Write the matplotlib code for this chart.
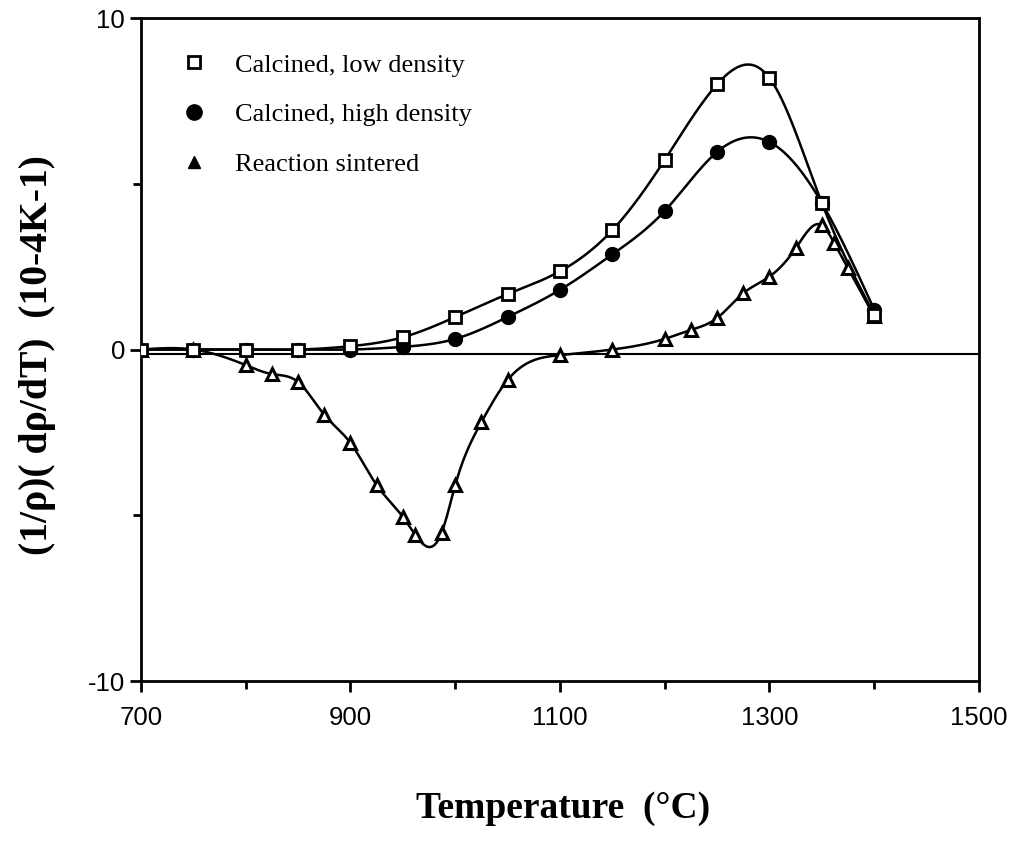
import numpy as np
import matplotlib
matplotlib.use("Agg")
import matplotlib.pyplot as plt
from matplotlib.lines import Line2D

# ======================
# data
# ======================
temp = [700, 750, 800, 850, 900, 950, 1000, 1050, 1100, 1150, 1200, 1250, 1300, 1350, 1400]
low_density = [0, 0, 0, 0, 0.1, 0.37, 0.98, 1.67, 2.36, 3.6, 5.72, 8.0, 8.19, 4.42, 1.05]
high_density = [0, 0, 0, 0, 0, 0.08, 0.32, 0.98, 1.8, 2.87, 4.18, 5.96, 6.26, 4.42, 1.2]

temp_rs = [700, 750, 800, 825, 850, 875, 900, 925, 950, 962, 987, 1000, 1025, 1050,
           1100, 1150, 1200, 1225, 1250, 1275, 1300, 1325, 1350, 1362, 1375, 1400]
reaction = [0, 0, -0.47, -0.74, -0.98, -1.97, -2.82, -4.09, -5.05, -5.6, -5.53, -4.09, -2.19, -0.92,
            -0.17, 0.0, 0.32, 0.59, 0.95, 1.7, 2.2, 3.05, 3.75, 3.2, 2.45, 1.0]

labels = ["Calcined, low density", "Calcined, high density", "Reaction sintered"]


# natural cubic spline for the smooth curves
def smooth(x, y, n=500):
    x = np.asarray(x, float)
    y = np.asarray(y, float)
    N = len(x)
    h = np.diff(x)
    A = np.zeros((N, N))
    r = np.zeros(N)
    A[0, 0] = A[-1, -1] = 1
    for i in range(1, N - 1):
        A[i, i - 1] = h[i - 1]
        A[i, i] = 2 * (h[i - 1] + h[i])
        A[i, i + 1] = h[i]
        r[i] = 6 * ((y[i + 1] - y[i]) / h[i] - (y[i] - y[i - 1]) / h[i - 1])
    M = np.linalg.solve(A, r)
    xs = np.linspace(x[0], x[-1], n)
    k = np.clip(np.searchsorted(x, xs) - 1, 0, N - 2)
    a = x[k + 1] - xs
    b = xs - x[k]
    hk = h[k]
    ys = (M[k] * a ** 3 + M[k + 1] * b ** 3) / (6 * hk) \
        + (y[k] / hk - M[k] * hk / 6) * a + (y[k + 1] / hk - M[k + 1] * hk / 6) * b
    return xs, ys


plt.rcParams["axes.unicode_minus"] = False
serif = ["Liberation Serif", "DejaVu Serif"]
sans = ["Liberation Sans", "DejaVu Sans"]

fig = plt.figure(figsize=(10.2, 8.42), dpi=100)
ax = fig.add_axes([0.1382, 0.1912, 0.8216, 0.7874])

lw = 1.8
ax.axhline(-0.15, color="black", lw=1.5, zorder=1)

for x, y in [(temp, low_density), (temp, high_density), (temp_rs, reaction)]:
    xs, ys = smooth(x, y)
    ax.plot(xs, ys, color="black", lw=lw, zorder=2)

ax.plot(temp_rs, reaction, ls="none", marker="^", ms=9, mfc="white", mec="black", mew=2.2, zorder=3)
ax.plot(temp, high_density, ls="none", marker="o", ms=10, mfc="black", mec="black", zorder=4)
ax.plot(temp, low_density, ls="none", marker="s", ms=9, mfc="white", mec="black", mew=2, zorder=5)

ax.set_xlim(700, 1500)
ax.set_ylim(-10, 10)
ax.set_xticks([700, 900, 1100, 1300, 1500])
ax.set_xticks([800, 1000, 1200, 1400], minor=True)
ax.set_yticks([-10, 0, 10])
ax.set_yticks([-5, 5], minor=True)
ax.tick_params(which="both", direction="out", width=2, colors="black")
ax.tick_params(which="major", length=8)
ax.tick_params(which="minor", length=6)
ax.tick_params(axis="x", pad=10)
for t in ax.get_xticklabels() + ax.get_yticklabels():
    t.set_family(sans)
    t.set_fontsize(18.5)
for s in ax.spines.values():
    s.set_linewidth(2)

handles = [
    Line2D([], [], ls="none", marker="s", ms=9, mfc="white", mec="black", mew=2),
    Line2D([], [], ls="none", marker="o", ms=11, mfc="black", mec="black"),
    Line2D([], [], ls="none", marker="^", ms=9, mfc="black", mec="black"),
]
ax.legend(handles, labels, loc="upper left", bbox_to_anchor=(0.019, 0.983), frameon=False,
          prop={"family": serif, "size": 19}, labelspacing=1.0, handletextpad=1.05,
          handlelength=1.0)

fig.text(0.552, 0.040, "Temperature  (°C)", ha="center", va="center",
         family=serif, weight="bold", fontsize=27)
fig.text(0.037, 0.578, "(1/ρ)( dρ/dT)  (10-4K-1)", ha="center", va="center", rotation=90,
         family=serif, weight="bold", fontsize=28.5)

fig.savefig("out.png", dpi=100)
